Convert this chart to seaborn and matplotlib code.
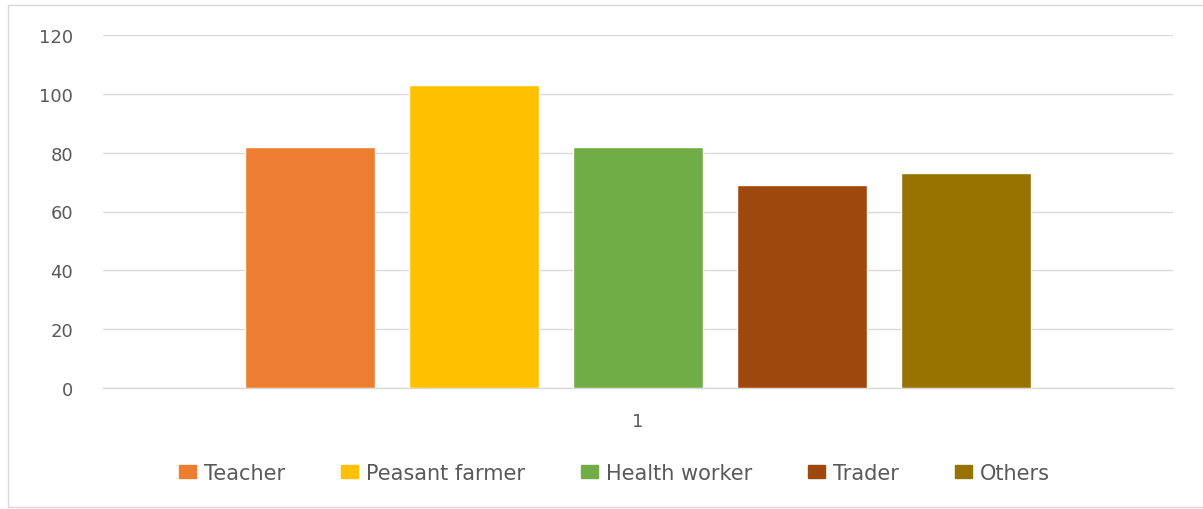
import pandas as pd
import matplotlib.pyplot as plt
import seaborn as sns
from matplotlib.patches import Rectangle

# Chart data
occupations = ["Teacher", "Peasant farmer", "Health worker", "Trader", "Others"]
counts = [82, 103, 82, 69, 73]
group_labels = ["1"] * len(occupations)
bar_colors = ["#ED7D31", "#FFC000", "#70AD47", "#9E480E", "#997300"]
y_ticks = [0, 20, 40, 60, 80, 100, 120]

df = pd.DataFrame({"Group": group_labels, "Occupation": occupations, "Count": counts})

sns.set_style("white")
plt.rcParams['font.family'] = ['DejaVu Sans']

fig = plt.figure(figsize=(12.03, 5.10), dpi=100)
ax = fig.add_axes([103 / 1203, 1 - 389 / 510, 1070 / 1203, 353 / 510])

sns.barplot(data=df, x="Group", y="Count", hue="Occupation", hue_order=occupations,
            palette=bar_colors, width=0.766, gap=0.21, saturation=1,
            ax=ax, legend=False, zorder=3)

# Axis styling
ax.set_ylim(0, 120)
ax.set_xlim(-0.5, 0.5)
ax.set_yticks(y_ticks)
ax.yaxis.grid(True, color="#D9D9D9", linewidth=1)
ax.set_axisbelow(True)
for side in ["top", "right", "left"]:
    ax.spines[side].set_visible(False)
ax.spines["bottom"].set_color("#D9D9D9")
ax.spines["bottom"].set_linewidth(1)
ax.tick_params(axis="both", length=0, labelsize=13, labelcolor="#595959")
ax.tick_params(axis="y", pad=21.5)
ax.tick_params(axis="x", pad=17)
ax.set_xlabel("")
ax.set_ylabel("")

# Legend along the bottom
handles = [Rectangle((0, 0), 1, 1, color=c) for c in bar_colors]
fig.legend(handles, occupations, loc="center", bbox_to_anchor=(614.5 / 1203, 1 - 474 / 510),
           ncol=5, frameon=False, fontsize=15, labelcolor="#595959",
           handlelength=0.8, handleheight=0.58, handletextpad=0.38, columnspacing=2.7,
           borderpad=0, borderaxespad=0)

# Outer chart border
fig.patches.append(Rectangle((7.5 / 1203, 2 / 510), 1.0, 502 / 510, transform=fig.transFigure,
                             fill=False, edgecolor="#D9D9D9", linewidth=1))

fig.savefig("out.png", dpi=100)
